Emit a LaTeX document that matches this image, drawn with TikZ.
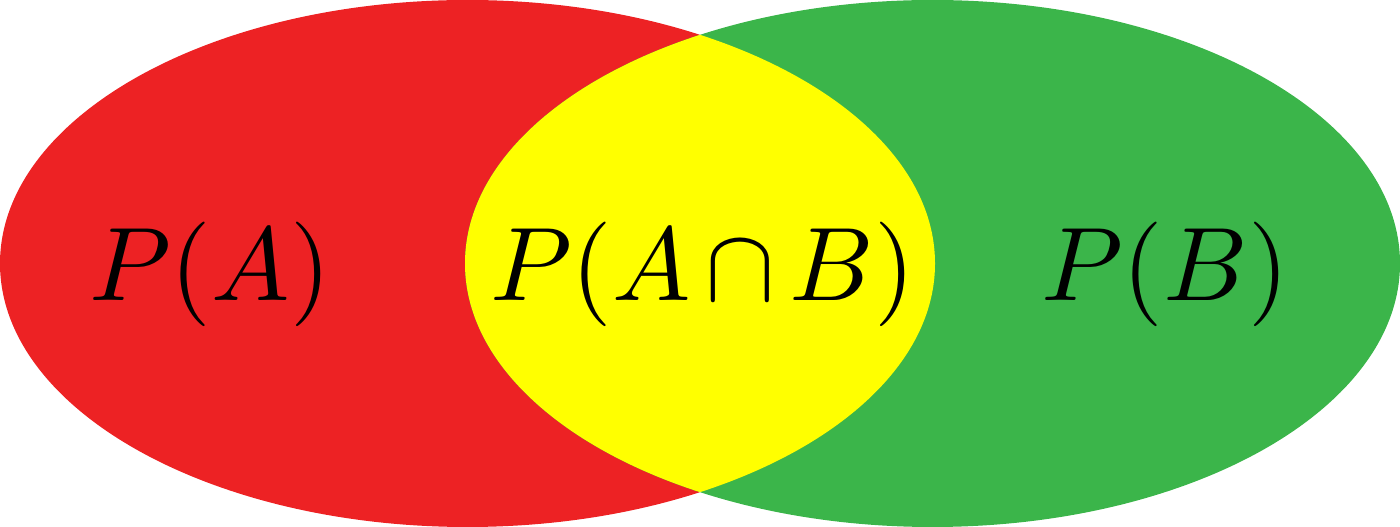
\documentclass[tikz,border=0pt]{standalone}
\usepackage{amsmath}
\usetikzlibrary{positioning}
\definecolor{setred}{HTML}{ED2224}
\definecolor{setgreen}{HTML}{3BB54A}
\definecolor{setyellow}{HTML}{FFFF00}
\begin{document}
\begin{tikzpicture}[
    lbl/.style={scale=5.95, transform shape, inner sep=0pt}
]
\useasboundingbox (0,0) rectangle (28,10.54);
% the two sets
\fill[setred] (9.35,5.27) ellipse [x radius=9.35, y radius=5.27];
\fill[setgreen] (18.65,5.27) ellipse [x radius=9.35, y radius=5.27];
% overlap
\begin{scope}
  \clip (9.35,5.27) ellipse [x radius=9.35, y radius=5.27];
  \fill[setyellow] (18.65,5.27) ellipse [x radius=9.35, y radius=5.27];
\end{scope}
\node[lbl] (lblA) at (4.2,5.05) {$P(A)$};
\node[lbl] (lblAB) at (14.05,5.05) {$P(A\mkern-1.5mu\cap\mkern-1.5mu B)$};
\node[lbl] (lblB) at (23.3,5.05) {$P(B)$};
\end{tikzpicture}
\end{document}
